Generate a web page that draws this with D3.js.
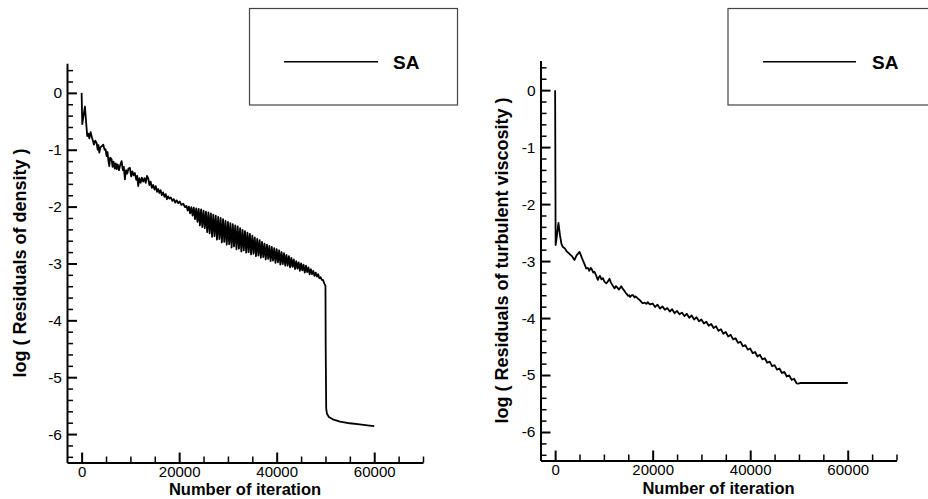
<!DOCTYPE html>
<html><head><meta charset="utf-8">
<script src="https://cdn.jsdelivr.net/npm/d3@7"></script>
<style>body{margin:0;background:#fff}svg{display:block}</style>
</head><body>
<svg id="chart" width="928" height="499"></svg>
<script>
// ---------- DATA ----------
const seriesName = "SA";
const xTickValues = [0, 20000, 40000, 60000];
const xTickLabels = ["0", "20000", "40000", "60000"];
const yTickValues = [0, -1, -2, -3, -4, -5, -6];
const yTickLabels = ["0", "-1", "-2", "-3", "-4", "-5", "-6"];
const xTitle = "Number of iteration";
const yTitles = ["log ( Residuals of density )", "log ( Residuals of turbulent viscosity )"];

// [iteration, log10(residual of density)]
const densityResiduals = [
 [0,0],[130,-0.55],[350,-0.42],[680,-0.24],[950,-0.55],[1150,-0.76],[1400,-0.72],[1570,-0.80],[1840,-0.69],[2100,-0.78],
 [2250,-0.82],[2520,-0.91],[2800,-0.84],[3070,-0.88],[3300,-1.00],[3450,-0.92],[3620,-1.05],[3850,-0.96],[4100,-0.94],[4440,-0.91],
 [4700,-1.00],[4900,-0.99],[5120,-1.11],[5300,-1.04],[5500,-1.20],[5670,-1.29],[5850,-1.14],[6150,-1.17],[6350,-1.30],[6550,-1.21],
 [6800,-1.33],[7000,-1.24],[7170,-1.34],[7400,-1.26],[7650,-1.36],[7900,-1.27],[8200,-1.20],[8450,-1.36],[8650,-1.30],[8870,-1.52],
 [9100,-1.36],[9350,-1.42],[9600,-1.33],[9900,-1.32],[10150,-1.47],[10400,-1.38],[10650,-1.45],[10920,-1.41],[11200,-1.53],[11400,-1.46],
 [11600,-1.64],[11850,-1.50],[12100,-1.58],[12350,-1.49],[12620,-1.56],[12900,-1.50],[13150,-1.58],[13400,-1.46],[13650,-1.50],[13900,-1.62],
 [14150,-1.56],[14400,-1.67],[14670,-1.62],[14950,-1.70],[15200,-1.64],[15450,-1.74],[15700,-1.69],[15950,-1.76],[16200,-1.71],[16450,-1.80],
 [16720,-1.75],[17000,-1.83],[17250,-1.78],[17500,-1.87],[17740,-1.82],[18000,-1.86],[18300,-1.84],[18600,-1.90],[18900,-1.87],[19200,-1.93],
 [19500,-1.89],[19800,-1.94],[20100,-1.91],[20450,-1.97],[20830,-1.95],[21200,-2.01],
 [21500,-1.99],[21750,-2.07],[22000,-2.00],[22250,-2.12],[22500,-2.01],[22750,-2.16],[23000,-2.02],[23250,-2.22],[23500,-2.03],[23750,-2.27],
 [24000,-2.04],[24250,-2.33],[24500,-2.05],[24750,-2.36],[25000,-2.07],[25250,-2.38],[25500,-2.09],[25750,-2.45],[26000,-2.10],[26250,-2.47],
 [26500,-2.12],[26750,-2.53],[27000,-2.14],[27250,-2.52],[27500,-2.16],[27750,-2.58],[28000,-2.18],[28250,-2.57],[28500,-2.20],[28750,-2.63],
 [29000,-2.22],[29250,-2.62],[29500,-2.25],[29750,-2.67],[30000,-2.27],[30250,-2.66],[30500,-2.29],[30750,-2.72],[31000,-2.31],[31250,-2.70],
 [31500,-2.33],[31750,-2.75],[32000,-2.35],[32250,-2.74],[32500,-2.38],[32750,-2.79],[33000,-2.41],[33250,-2.77],[33500,-2.43],[33750,-2.81],
 [34000,-2.46],[34250,-2.80],[34500,-2.48],[34750,-2.84],[35000,-2.51],[35250,-2.83],[35500,-2.54],[35750,-2.87],[36000,-2.57],[36250,-2.86],
 [36500,-2.59],[36750,-2.90],[37000,-2.62],[37250,-2.89],[37500,-2.65],[37750,-2.93],[38000,-2.67],[38250,-2.92],[38500,-2.69],[38750,-2.96],
 [39000,-2.71],[39250,-2.95],[39500,-2.73],[39750,-2.99],[40000,-2.75],[40250,-2.98],[40500,-2.77],[40750,-3.02],[41000,-2.80],[41250,-3.01],
 [41500,-2.82],[41750,-3.04],[42000,-2.85],[42250,-3.04],[42500,-2.87],[42750,-3.07],[43000,-2.90],[43250,-3.06],[43500,-2.93],[43750,-3.10],
 [44000,-2.96],[44250,-3.09],[44500,-2.98],[44750,-3.13],[45000,-3.00],[45250,-3.12],[45500,-3.02],[45750,-3.16],[46000,-3.04],[46250,-3.15],
 [46500,-3.07],[46750,-3.19],[47000,-3.10],[47250,-3.19],[47500,-3.13],[47750,-3.22],[48000,-3.16],[48250,-3.23],[48500,-3.19],[48750,-3.26],
 [49000,-3.24],[49250,-3.29],[49500,-3.29],[49750,-3.35],[49950,-3.38],[50000,-3.40],
 [50050,-4.50],[50150,-5.55],[50300,-5.64],[50700,-5.70],[51500,-5.74],[53000,-5.78],[55000,-5.81],[57000,-5.83],[59000,-5.85],[60000,-5.86]
];

// [iteration, log10(residual of turbulent viscosity)]
const viscosityResiduals = [
 [0,0],[100,-2.72],[300,-2.60],[680,-2.33],[1000,-2.55],[1300,-2.70],[1560,-2.75],[2000,-2.78],[2300,-2.82],[2500,-2.84],[2800,-2.86],[3000,-2.88],
 [3300,-2.90],[3500,-2.92],[3970,-2.98],[4400,-2.90],[5000,-2.84],[5300,-2.90],[5500,-2.95],[6000,-3.05],[6370,-3.13],[6700,-3.12],[7000,-3.17],
 [7300,-3.12],[7500,-3.14],[7800,-3.20],[8080,-3.19],[8400,-3.25],[8760,-3.33],[9000,-3.28],[9200,-3.26],[9500,-3.32],[9790,-3.30],[10100,-3.36],
 [10480,-3.39],[10800,-3.36],[11160,-3.31],[11400,-3.37],[11600,-3.40],[11900,-3.44],[12200,-3.48],[12450,-3.44],[12700,-3.46],[13100,-3.50],
 [13350,-3.47],[13560,-3.44],[13800,-3.48],[14000,-3.50],[14250,-3.53],[14500,-3.56],[14700,-3.58],[14930,-3.61],[15200,-3.60],[15400,-3.63],
 [15700,-3.60],[16000,-3.60],[16300,-3.64],[16500,-3.62],[16980,-3.66],[17300,-3.68],[17500,-3.70],[17800,-3.73],[18000,-3.74],[18350,-3.73],
 [18700,-3.75],[19000,-3.72],[19300,-3.75],[19500,-3.76],
 [20000,-3.745],[20500,-3.805],[21000,-3.765],[21500,-3.835],[22000,-3.795],[22500,-3.855],[23000,-3.825],[23500,-3.885],[24000,-3.845],[24500,-3.915],
 [25000,-3.875],[25500,-3.935],[26000,-3.905],[26500,-3.965],[27000,-3.925],[27500,-3.995],[28000,-3.955],[28500,-4.025],[29000,-3.985],[29500,-4.055],
 [30000,-4.025],[30500,-4.095],[31000,-4.065],[31500,-4.135],[32000,-4.105],[32500,-4.175],[33000,-4.145],[33500,-4.225],[34000,-4.195],[34500,-4.275],
 [35000,-4.245],[35500,-4.325],[36000,-4.295],[36500,-4.375],[37000,-4.355],[37500,-4.435],[38000,-4.415],[38500,-4.495],[39000,-4.475],[39500,-4.555],
 [40000,-4.535],[40500,-4.615],[41000,-4.595],[41500,-4.675],[42000,-4.645],[42500,-4.725],[43000,-4.705],[43500,-4.785],[44000,-4.765],[44500,-4.845],
 [45000,-4.825],[45500,-4.905],[46000,-4.885],[46500,-4.965],[47000,-4.945],[47500,-5.025],[48000,-5.005],[48500,-5.085],[49000,-5.065],[49500,-5.145],
 [49900,-5.15],[50200,-5.14],[60000,-5.14]
];

// ---------- LAYOUT ----------
const svg = d3.select("#chart");
const xDomain = [-3000, 70000];
const yDomain = [-6.5, 0.52];
const panels = [
  { data: densityResiduals, yTitle: yTitles[0],
    xRange: [67, 423], yRange: [462.5, 63.3],
    yTitleX: 26, xTitleY: 495,
    box: { x: 249.5, y: 8.5, w: 208, h: 96.5 }, legLine: [284, 378], legY: 61.7, legTextX: 393 },
  { data: viscosityResiduals, yTitle: yTitles[1],
    xRange: [540.5, 896.5], yRange: [460.5, 60.5],
    yTitleX: 508, xTitleY: 493.5,
    box: { x: 728, y: 8.5, w: 220, h: 96.5 }, legLine: [763, 856], legY: 61.7, legTextX: 872 }
];

const fontFam = "'Liberation Sans', Arial, sans-serif";

panels.forEach(p => {
  const x = d3.scaleLinear().domain(xDomain).range(p.xRange);
  const y = d3.scaleLinear().domain(yDomain).range(p.yRange);
  const g = svg.append("g");

  // minor ticks
  const xMinor = d3.range(5000, 70001, 5000).filter(v => v % 20000 !== 0);
  const yMinor = d3.range(-32, 3).map(k => +(k * 0.2).toFixed(1)).filter(v => v >= -6.45 && v <= 0.45 && Math.abs(v - Math.round(v)) > 1e-6);

  const xAxisMinor = g.append("g").attr("transform", `translate(0,${p.yRange[0]})`)
    .call(d3.axisBottom(x).tickValues(xMinor).tickSize(-6).tickSizeOuter(0).tickFormat(""));
  const yAxisMinor = g.append("g").attr("transform", `translate(${p.xRange[0]},0)`)
    .call(d3.axisLeft(y).tickValues(yMinor).tickSize(-6).tickSizeOuter(0).tickFormat(""));
  [xAxisMinor, yAxisMinor].forEach(a => { a.select(".domain").remove(); a.selectAll("line").attr("stroke", "#000").attr("stroke-width", 1.5); });

  const xAxis = g.append("g").attr("transform", `translate(0,${p.yRange[0]})`)
    .call(d3.axisBottom(x).tickValues(xTickValues).tickSize(-10).tickSizeOuter(0)
      .tickFormat((d, i) => xTickLabels[i]));
  const yAxis = g.append("g").attr("transform", `translate(${p.xRange[0]},0)`)
    .call(d3.axisLeft(y).tickValues(yTickValues).tickSize(-10).tickSizeOuter(0).tickPadding(5)
      .tickFormat((d, i) => yTickLabels[i]));
  [xAxis, yAxis].forEach(a => {
    a.select(".domain").attr("stroke", "#000").attr("stroke-width", 2);
    a.selectAll("line").attr("stroke", "#000").attr("stroke-width", 2);
    a.selectAll("text").attr("fill", "#000").style("font-family", fontFam).style("font-size", "15.5px");
  });
  xAxis.selectAll("text").attr("y", 14).attr("dy", null).style("font-size", "15px");

  // axis titles
  g.append("text").attr("x", (p.xRange[0] + p.xRange[1]) / 2).attr("y", p.xTitleY)
    .attr("text-anchor", "middle").style("font-family", fontFam).style("font-weight", "bold").style("font-size", "16.5px")
    .text(xTitle);
  const cy = (p.yRange[0] + p.yRange[1]) / 2;
  g.append("text").attr("transform", `translate(${p.yTitleX},${cy}) rotate(-90)`)
    .attr("text-anchor", "middle").style("font-family", fontFam).style("font-weight", "bold").style("font-size", "18px")
    .text(p.yTitle);

  // curve
  const line = d3.line().x(d => x(d[0])).y(d => y(d[1]));
  g.append("path").datum(p.data).attr("d", line)
    .attr("fill", "none").attr("stroke", "#000").attr("stroke-width", 1.8).attr("stroke-linejoin", "round");

  // legend
  g.append("rect").attr("x", p.box.x).attr("y", p.box.y).attr("width", p.box.w).attr("height", p.box.h)
    .attr("fill", "none").attr("stroke", "#444").attr("stroke-width", 1.2);
  g.append("line").attr("x1", p.legLine[0]).attr("x2", p.legLine[1]).attr("y1", p.legY).attr("y2", p.legY)
    .attr("stroke", "#000").attr("stroke-width", 1.6);
  g.append("text").attr("x", p.legTextX).attr("y", p.legY + 6.8)
    .style("font-family", fontFam).style("font-weight", "bold").style("font-size", "19px").text(seriesName);
});
</script>
</body></html>
